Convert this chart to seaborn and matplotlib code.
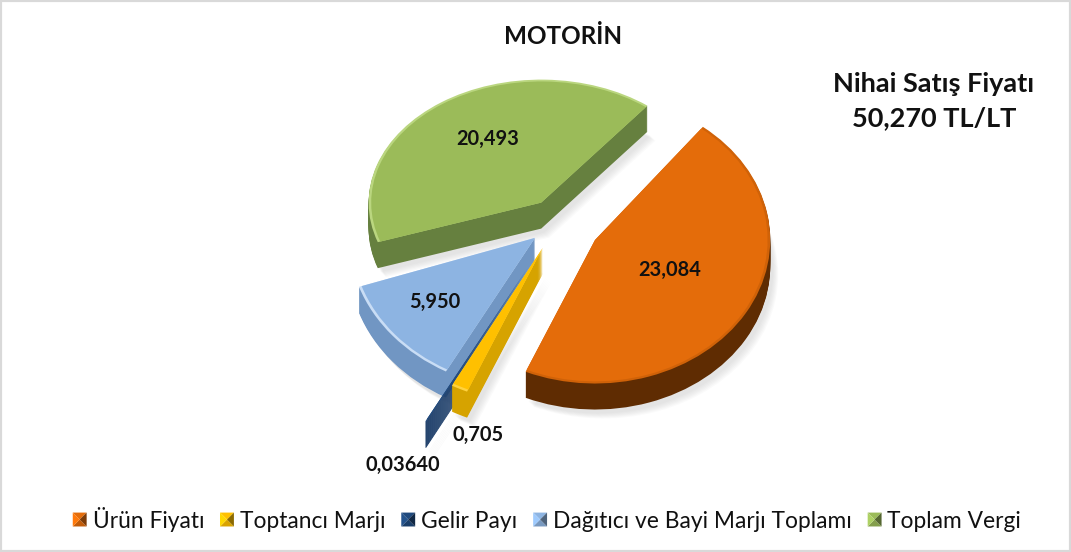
import seaborn as sns
import matplotlib.pyplot as plt
from matplotlib.colors import to_rgb
from matplotlib.legend_handler import HandlerBase
from matplotlib.patches import Patch, Polygon, Rectangle
from matplotlib.transforms import Affine2D

# Veriler
kategoriler = ['Ürün Fiyatı', 'Toptancı Marjı', 'Gelir Payı', 'Dağıtıcı ve Bayi Marjı Toplamı', 'Toplam Vergi']
degerler = [23.084, 0.705, 0.0364, 5.950, 20.493]
etiketler = ['23,084', '0,705', '0,03640', '5,950', '20,493']

# Gorunum
renkler = ['#E46C0A', '#FFC000', '#1F497D', '#8DB4E2', '#9BBB59']
yan_renkler = ['#5F2C02', '#D6A300', '#1B3C68', '#7196C3', '#66803F']
kenar_renkler = ['#D06208', '#FFD23F', '#1F497D', '#C9DDF5', '#BAD67F']
patlama = [0.243, 0.198, 0.367, 0.17, 0.164]
yaricap = [0.99, 1.08, 1.2, 1.05, 0.975]
y_olcek = [1.0, 1.0, 1.0, 1.0, 0.87]
etiket_yer = [(670, 270), (478, 435), (403, 465), (435, 302), (488, 139)]

W, H = 1071, 552
CX, CY = 558, 222
RX, RY = 177, 145
DERINLIK = 26

sns.set_theme(style='white')
plt.rcParams['font.family'] = ['Lato', 'DejaVu Sans']

fig = plt.figure(figsize=(W / 100, H / 100), dpi=100)
ax = fig.add_axes([0, 0, 1, 1])


def pasta(dy, cizim_renk, olcek=1.0, alpha=None, dx=0):
    wedges, _ = ax.pie(degerler, colors=cizim_renk, startangle=52, counterclock=False,
                       explode=patlama, center=(dx, -dy), radius=1, frame=True,
                       wedgeprops={'linewidth': 0, 'alpha': alpha})
    for w, r, k in zip(wedges, yaricap, y_olcek):
        cx, cy = w.center
        w.set_radius(r * olcek)
        w.set_transform(Affine2D().translate(-cx, -cy).scale(1, k).translate(cx, cy) + ax.transData)


# golge
for i in range(6):
    pasta((DERINLIK + 4 + i) / RY, ['#808080'] * 5, alpha=0.035, dx=(3 + i) / RX)
# yan yuzeyler
for d in range(DERINLIK, 0, -1):
    pasta(d / RY, yan_renkler)
# ust yuzey ve kenar parlakligi
pasta(0, kenar_renkler)
pasta(0, renkler, olcek=0.985)

ax.set_aspect('auto')
ax.set_xlim(-CX / RX, (W - CX) / RX)
ax.set_ylim(-(H - CY) / RY, CY / RY)
ax.axis('off')


def px(x, y):
    return x / W, 1 - y / H


for e, (x, y) in zip(etiketler, etiket_yer):
    fig.text(*px(x, y), e, ha='center', va='center', fontsize=14.4, fontweight='bold', color='#111111')

fig.text(*px(563, 36), 'MOTORİN', ha='center', va='center', fontsize=17.5, fontweight='bold', color='#111111')
fig.text(*px(934, 84), 'Nihai Satış Fiyatı', ha='center', va='center', fontsize=19.5, fontweight='bold', color='#111111')
fig.text(*px(934, 118), '50,270 TL/LT', ha='center', va='center', fontsize=19.5, fontweight='bold', color='#111111')


class PiramitKare(HandlerBase):
    # lejant kareleri: dort ucgenli egimli kare
    def create_artists(self, legend, orig, xd, yd, w, h, fontsize, trans):
        s = 10
        x0, y0 = -xd, -yd + (h - s) / 2
        m = (x0 + s / 2, y0 + s / 2)
        a, b, c, d = (x0, y0), (x0 + s, y0), (x0 + s, y0 + s), (x0, y0 + s)
        base = to_rgb(orig.get_facecolor())
        acik = tuple(min(1, v * 1.12) for v in base)
        orta = tuple(v * 0.85 for v in base)
        koyu = tuple(v * 0.55 for v in base)
        parcalar = [((d, c, m), base), ((a, b, m), orta), ((a, d, m), acik), ((b, c, m), koyu)]
        return [Polygon(p, closed=True, facecolor=r, edgecolor='none', transform=trans) for p, r in parcalar]


tutamak = [Patch(facecolor=r) for r in renkler]
fig.legend(tutamak, kategoriler, handler_map={Patch: PiramitKare()}, loc='center', bbox_to_anchor=px(547, 519),
           ncol=5, frameon=False, fontsize=16.4, handlelength=0.61, handletextpad=0.26, columnspacing=0.7,
           labelcolor='#111111')

fig.add_artist(Rectangle((0, 0), 1, 1, transform=fig.transFigure, fill=False, edgecolor='#d9d9d9', linewidth=3))

plt.savefig('out.png', dpi=100)
